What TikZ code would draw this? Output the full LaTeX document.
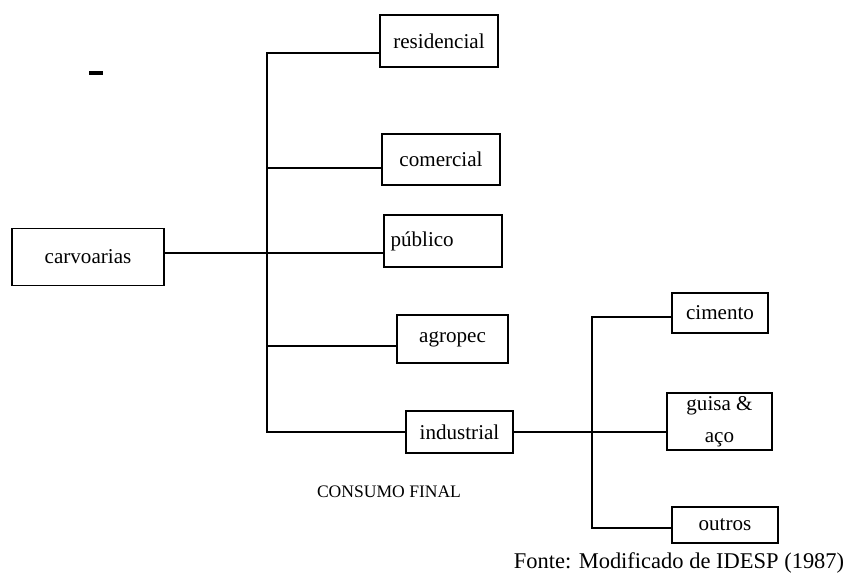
\documentclass[tikz,border=0pt]{standalone}
\usepackage{fontspec}
\setmainfont{Liberation Serif}
\tikzset{
  box/.style={draw, line width=1.1pt, inner sep=2pt, font=\fontsize{12}{13}\selectfont},
  link/.style={line width=1.1pt}
}
\begin{document}
\begin{tikzpicture}[x=0.02cm,y=-0.02cm]
\useasboundingbox (0,0) rectangle (855,582);
\node[box, minimum width=3.04cm, minimum height=1.14cm] (carv) at (88,257) {carvoarias};
\node[box, minimum width=2.36cm, minimum height=1.04cm] (res) at (439,41) {residencial};
\node[box, minimum width=2.36cm, minimum height=1.02cm] (com) at (441,159.5) {comercial};
\node[box, minimum width=2.36cm, minimum height=1.04cm, text width=2.1cm, align=left] (pub) at (443,241) {público};
\node[box, minimum width=2.22cm, minimum height=0.96cm] (agr) at (452.5,339) {agropec};
\node[box, minimum width=2.14cm, minimum height=0.84cm] (ind) at (459.5,432) {industrial};
\node[box, minimum width=1.92cm, minimum height=0.80cm] (cim) at (720,313) {cimento};
\node[box, minimum width=2.10cm, minimum height=1.06cm, align=center] (gua) at (719.5,421.5) {guisa \&\\[5pt]aço};
\node[box, minimum width=2.12cm, minimum height=0.72cm] (out) at (725,525) {outros};
\node[font=\fontsize{10}{12}\selectfont] (cons) at (389,492) {CONSUMO FINAL};
\node[font=\fontsize{12.8}{14}\selectfont] (fonte) at (679,563) {Fonte: Modificado de IDESP (1987)};
% trunks
\coordinate (tk) at (267,0);
\coordinate (tk2) at (592,0);
\draw[link] ([yshift=-0.24cm]res.west) -- ([yshift=-0.24cm]res.west -| tk) -- (ind.west -| tk) -- (ind.west);
\draw[link] ([yshift=-0.17cm]com.west) -- ([yshift=-0.17cm]com.west -| tk);
\draw[link] ([yshift=0.08cm]carv.east) -- ([yshift=-0.24cm]pub.west);
\draw[link] ([yshift=-0.14cm]agr.west) -- ([yshift=-0.14cm]agr.west -| tk);
\draw[link] ([yshift=-0.08cm]cim.west) -- ([yshift=-0.08cm]cim.west -| tk2) -- ([yshift=-0.06cm]out.west -| tk2) -- ([yshift=-0.06cm]out.west);
\draw[link] (ind.east) -- ([yshift=-0.21cm]gua.west);
% stray mark
\draw[line width=2pt] (89,73) -- (103,73);
\end{tikzpicture}
\end{document}
